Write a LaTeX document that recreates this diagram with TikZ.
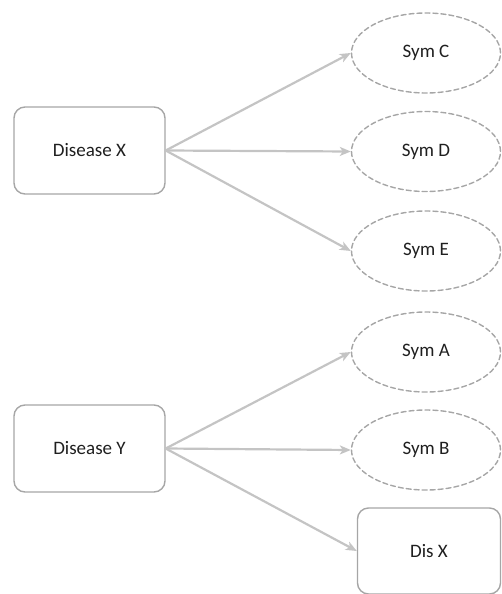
\documentclass[tikz,border=0pt]{standalone}
\usepackage{fontspec}
\setmainfont{Carlito}
\usetikzlibrary{shapes.geometric,arrows.meta}
\definecolor{boxgray}{HTML}{A6A6A6}
\definecolor{arrgray}{HTML}{C4C4C4}
\definecolor{txtgray}{HTML}{1F1F1F}
\tikzset{
	disbox/.style={draw=boxgray, line width=1.4pt, rounded corners=11pt, fill=white,
		minimum width=151pt, minimum height=87pt, text=txtgray},
	symell/.style={ellipse, draw=boxgray, line width=1.4pt, dash pattern=on 5pt off 3pt,
		minimum width=149pt, minimum height=80pt, inner sep=0pt, text=txtgray},
	link/.style={draw=arrgray, line width=2.2pt, ->}
}
\begin{document}
\begin{tikzpicture}[x=1pt, y=-1pt, font=\fontsize{19}{22}\selectfont, line join=round, line cap=round, >={Stealth[length=11pt,width=9pt,inset=3pt]}]
	\useasboundingbox (0,0) rectangle (502,594);
	% left side
	\node[disbox] (disx) at (89.5,150.5) {Disease X};
	\node[disbox] (disy) at (89.5,448.5) {Disease Y};
	% right side
	\node[symell] (symc) at (426,53) {Sym C};
	\node[symell] (symd) at (426,151.5) {Sym D};
	\node[symell] (syme) at (426,251) {Sym E};
	\node[symell] (syma) at (426,352) {Sym A};
	\node[symell] (symb) at (426,450) {Sym B};
	\node[disbox, minimum width=143pt, minimum height=86pt] (disxx) at (429,551) {Dis X};
	% arrows
	\foreach \s/\t in {disx/symc,disx/symd,disx/syme,disy/syma,disy/symb,disy/disxx}
		\draw[link] (\s.east) -- (\t.west);
\end{tikzpicture}
\end{document}
